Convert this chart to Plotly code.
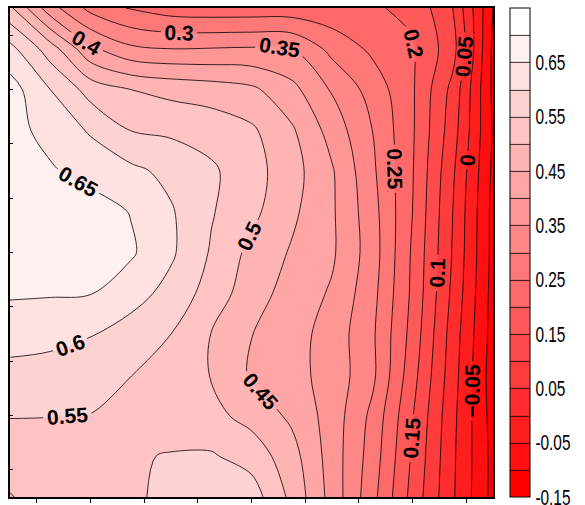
import plotly.graph_objects as go

# Grid coordinates (same spacing on both axes)
x_vals = [-0.5, 0.25, 1.0, 1.75, 2.5, 3.25, 4.0, 4.75, 5.5, 6.25, 7.0, 7.75, 8.5]
y_vals = [-0.5, 0.25, 1.0, 1.75, 2.5, 3.25, 4.0, 4.75, 5.5, 6.25, 7.0, 7.75, 8.5]

# Field values, one list per grid row, from bottom (y=-0.5) to top (y=8.5)
row_00 = [0.497, 0.525, 0.535, 0.54, 0.565, 0.575, 0.575, 0.4875, 0.381, 0.267, 0.133, 0.006, -0.115]
row_01 = [0.525, 0.53, 0.535, 0.545, 0.553, 0.555, 0.53, 0.47, 0.377, 0.278, 0.143, 0.009, -0.115]
row_02 = [0.552, 0.551, 0.549, 0.535, 0.525, 0.515, 0.482, 0.44, 0.378, 0.288, 0.153, 0.013, -0.12]
row_03 = [0.585, 0.58, 0.57, 0.551, 0.525, 0.498, 0.444, 0.417, 0.381, 0.312, 0.169, 0.021, -0.125]
row_04 = [0.62, 0.615, 0.603, 0.578, 0.55, 0.499, 0.451, 0.42, 0.38, 0.309, 0.182, 0.027, -0.12]
row_05 = [0.656, 0.654, 0.652, 0.621, 0.583, 0.529, 0.472, 0.43, 0.394, 0.317, 0.19, 0.0385, -0.118]
row_06 = [0.685, 0.682, 0.675, 0.657, 0.608, 0.545, 0.486, 0.445, 0.4075, 0.325, 0.193, 0.046, -0.115]
row_07 = [0.69, 0.685, 0.672, 0.648, 0.605, 0.554, 0.513, 0.46, 0.407, 0.32, 0.20, 0.05, -0.115]
row_08 = [0.675, 0.655, 0.634, 0.612, 0.586, 0.558, 0.52, 0.47, 0.405, 0.31, 0.203, 0.058, -0.11]
row_09 = [0.665, 0.636, 0.594, 0.549, 0.541, 0.53, 0.508, 0.457, 0.38, 0.30, 0.206, 0.073, -0.105]
row_10 = [0.672, 0.60, 0.53, 0.50, 0.485, 0.475, 0.46, 0.415, 0.345, 0.28, 0.206, 0.085, -0.11]
row_11 = [0.615, 0.525, 0.41, 0.36, 0.35, 0.352, 0.355, 0.35, 0.285, 0.24, 0.205, 0.12, -0.11]
row_12 = [0.51, 0.37, 0.285, 0.245, 0.225, 0.22, 0.22, 0.22, 0.215, 0.205, 0.19, 0.10, -0.10]

z_grid = [row_00, row_01, row_02, row_03, row_04, row_05, row_06,
          row_07, row_08, row_09, row_10, row_11, row_12]

# Axis ticks and colour-bar labels (lowest tick nudged inside the bar's range)
axis_ticks = [0, 1, 2, 3, 4, 5, 6, 7, 8]
cbar_ticks = [-0.1499, -0.05, 0.05, 0.15, 0.25, 0.35, 0.45, 0.55, 0.65]
cbar_text = ["-0.15", "-0.05", "0.05", "0.15", "0.25", "0.35", "0.45", "0.55", "0.65"]

fig = go.Figure(
    go.Contour(
        x=x_vals,
        y=y_vals,
        z=z_grid,
        zmin=-0.15,
        zmax=0.75,
        colorscale=[[0.0, "#ff0000"], [1.0, "#ffffff"]],
        autocontour=False,
        contours=dict(
            start=-0.1,
            end=0.7,
            size=0.05,
            coloring="fill",
            showlines=True,
            showlabels=True,
            labelformat=".2~f",
            labelfont=dict(family="Liberation Sans, Arial, sans-serif",
                           size=21, color="black", weight="bold"),
        ),
        line=dict(color="black", width=0.8, smoothing=1.0),
        colorbar=dict(
            x=1.035,
            xanchor="left",
            xpad=0,
            y=0.5,
            yanchor="middle",
            len=1.0,
            lenmode="fraction",
            ypad=0,
            thickness=20,
            outlinewidth=1,
            outlinecolor="black",
            tickmode="array",
            tickvals=cbar_ticks,
            ticktext=cbar_text,
            ticks="",
            ticklabeloverflow="allow",
            tickfont=dict(family="Liberation Sans, Arial, sans-serif",
                          size=22, color="black"),
        ),
    )
)

fig.update_layout(
    width=585,
    height=505,
    margin=dict(l=10, r=92, t=8, b=8, autoexpand=False),
    paper_bgcolor="white",
    plot_bgcolor="white",
    showlegend=False,
)

fig.update_xaxes(
    range=[-0.5, 8.5],
    tickmode="array",
    tickvals=axis_ticks,
    showticklabels=False,
    ticks="outside",
    ticklen=4,
    tickcolor="black",
    showline=True,
    linecolor="black",
    linewidth=1.5,
    mirror=True,
    showgrid=False,
    zeroline=False,
)
fig.update_yaxes(
    range=[-0.5, 8.5],
    tickmode="array",
    tickvals=axis_ticks,
    showticklabels=False,
    ticks="inside",
    ticklen=3,
    tickcolor="black",
    showline=True,
    linecolor="black",
    linewidth=1.5,
    mirror=True,
    showgrid=False,
    zeroline=False,
)

# Colour-bar labels use a narrow face: compress the glyphs horizontally.
narrow_labels_js = """
var gd = document.getElementById('{plot_id}');
gd.querySelectorAll('g.colorbar text').forEach(function (t) {
    if (!t.textContent) { return; }
    var w = t.getComputedTextLength();
    t.setAttribute('textLength', (w * 0.7).toFixed(1));
    t.setAttribute('lengthAdjust', 'spacingAndGlyphs');
});
"""

fig.write_html("out.html", post_script=narrow_labels_js)
